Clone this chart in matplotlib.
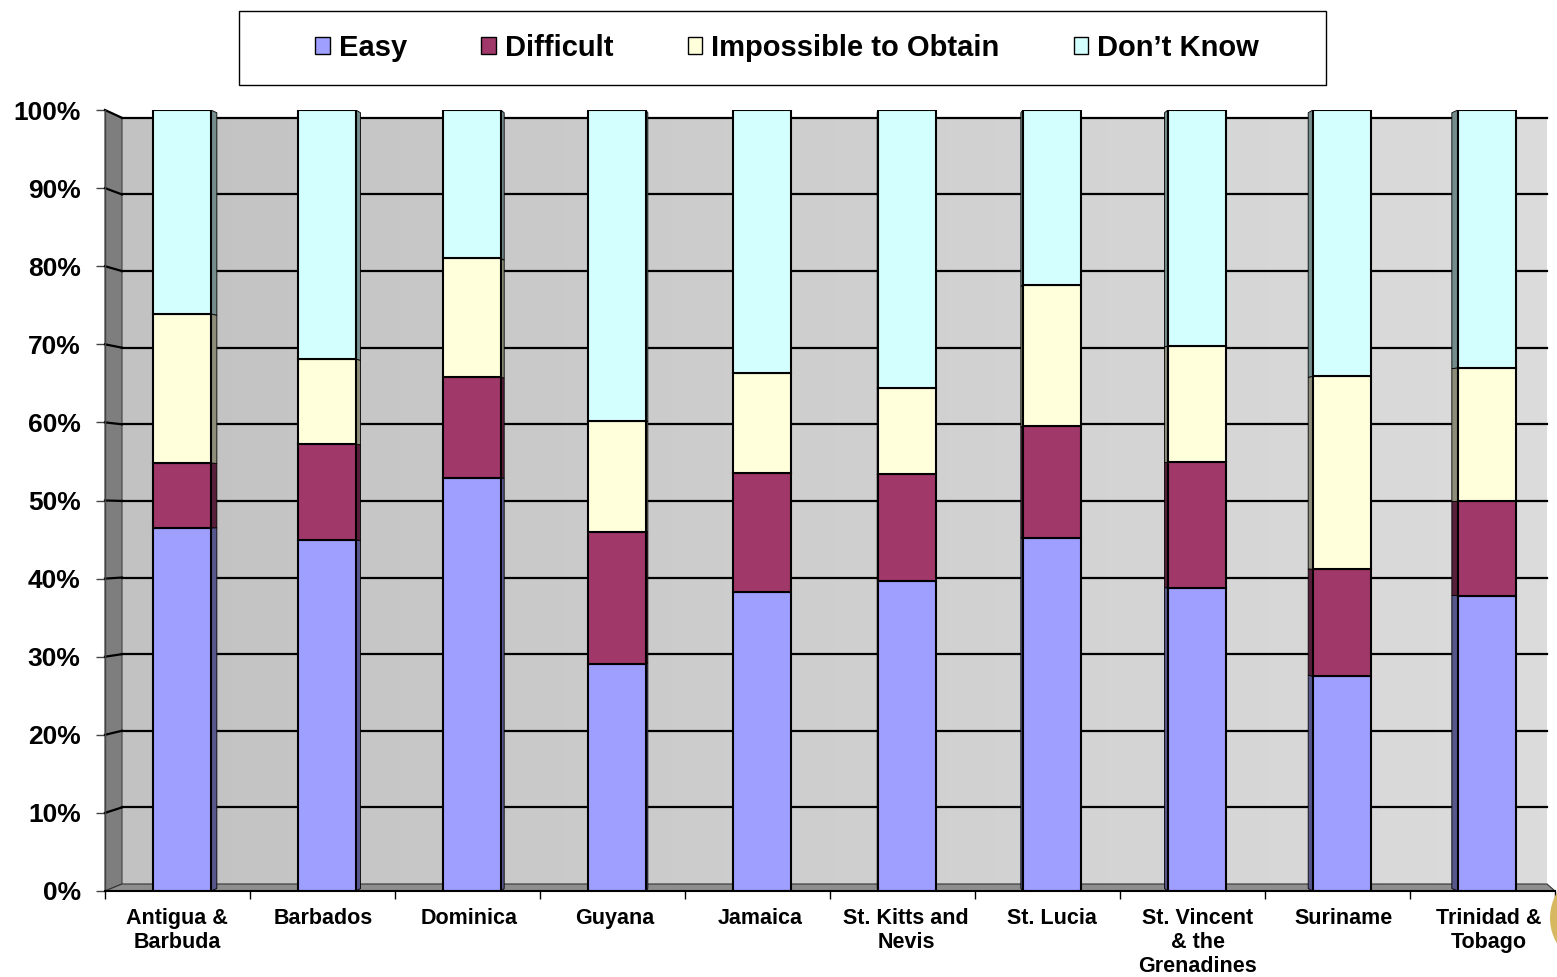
import numpy as np
import matplotlib.pyplot as plt
from matplotlib.patches import Polygon, Rectangle, Patch, Circle
from matplotlib.colors import LinearSegmentedColormap, to_rgb

countries = ['Antigua &\nBarbuda', 'Barbados', 'Dominica', 'Guyana', 'Jamaica',
             'St. Kitts and\nNevis', 'St. Lucia', 'St. Vincent\n& the\nGrenadines',
             'Suriname', 'Trinidad &\nTobago']
easy = [46.5, 44.9, 52.9, 29.1, 38.3, 39.7, 45.2, 38.8, 27.5, 37.8]
difficult = [8.3, 12.3, 12.9, 16.9, 15.2, 13.7, 14.3, 16.1, 13.7, 12.1]
impossible = [19.1, 10.9, 15.2, 14.2, 12.8, 11.0, 18.1, 14.9, 24.7, 17.1]
dont_know = [26.1, 31.9, 19.0, 39.8, 33.7, 35.6, 22.4, 30.2, 34.1, 33.0]

series = [('Easy', easy, '#9f9fff'),
          ('Difficult', difficult, '#a0386a'),
          ('Impossible to Obtain', impossible, '#ffffdc'),
          ('Don\u2019t Know', dont_know, '#d4ffff')]

plt.rcParams['font.family'] = 'Liberation Sans'
plt.rcParams['font.weight'] = 'bold'

W, H = 1557, 977
fig = plt.figure(figsize=(W / 100, H / 100), dpi=100)
ax = fig.add_axes([105 / W, 86 / H, 1450 / W, 781 / H])
ax.set_xlim(0, 10)
ax.set_ylim(0, 100)

# back wall sits a little to the right and squeezed vertically (3D look)
xb0, xb1 = 17 / 145, (1547 - 105) / 145


def yb(p):
    return 0.896 + 0.981 * p


wall_cmap = LinearSegmentedColormap.from_list('wall', ['#c2c2c2', '#dcdcdc'])
wall = Polygon([(xb0, yb(0)), (xb0, yb(100)), (xb1, yb(100)), (xb1, yb(0))],
               closed=True, facecolor='none', edgecolor='none')
ax.add_patch(wall)
img = ax.imshow(np.linspace(0, 1, 256)[None, :], cmap=wall_cmap, aspect='auto',
                extent=[xb0, xb1, yb(0), yb(100)], zorder=0)
img.set_clip_path(wall)

# left side wall and floor
ax.add_patch(Polygon([(0, 0), (0, 100), (xb0, yb(100)), (xb0, yb(0))],
                     facecolor='#7e7e7e', edgecolor='#444444', lw=0.8, zorder=1,
                     clip_on=False))
ax.add_patch(Polygon([(0, 0), (10, 0), (xb1, yb(0)), (xb0, yb(0))],
                     facecolor='#8e8e8e', edgecolor='#333333', lw=0.8, zorder=1,
                     clip_on=False))

# gridlines across the side wall and back wall
for p in range(10, 101, 10):
    ax.plot([xb0, xb1], [yb(p), yb(p)], color='black', lw=1.6, zorder=2,
            clip_on=False)
    ax.plot([0, xb0], [p, yb(p)], color='black', lw=1.6, zorder=2, clip_on=False)

# stacked bars with a thin receding side face
width = 0.4
f = 0.35
bottom = np.zeros(len(countries))
for name, vals, col in series:
    vals = np.array(vals)
    xc = np.arange(len(countries)) + 0.53
    ax.bar(xc, vals, width=width, bottom=bottom, color=col, edgecolor='black',
           lw=1.5, zorder=4)
    dark = tuple(c * 0.55 for c in to_rgb(col))
    for i in range(len(countries)):
        dxd = 6 * (4.5 - i) / 4.5 / 145
        xe = xc[i] + width / 2 if dxd > 0 else xc[i] - width / 2
        b, t = bottom[i], bottom[i] + vals[i]
        ax.add_patch(Polygon([(xe, b), (xe, t),
                              (xe + dxd, t + f * (yb(t) - t)),
                              (xe + dxd, b + f * (yb(b) - b))],
                             facecolor=dark, edgecolor='black', lw=0.6, zorder=3))
    bottom += vals

for s in ['top', 'right']:
    ax.spines[s].set_visible(False)
ax.spines['left'].set_color('#444444')
ax.spines['left'].set_linewidth(1)
ax.spines['bottom'].set_color('black')
ax.spines['bottom'].set_linewidth(1.5)
ax.spines['bottom'].set_zorder(5)

ax.set_yticks(range(0, 101, 10))
ax.set_yticklabels(['{}%'.format(v) for v in range(0, 101, 10)], fontsize=19,
                   fontweight='bold')
ax.tick_params(axis='y', length=6.5, width=1, color='#444444', pad=11)

# category labels sit on the front edge, spread a touch wider than the bars
ax.set_xticks(np.arange(len(countries)) * 1.0055 + 0.497)
ax.set_xticklabels(countries, fontsize=15.5, fontweight='bold', linespacing=1.2)
ax.set_xticks(np.arange(0, 11), minor=True)
ax.tick_params(axis='x', which='major', length=0, pad=12)
ax.tick_params(axis='x', which='minor', length=6, width=1, color='black')

# legend box along the top
fig.patches.append(Rectangle((239 / W, 1 - 85 / H), 1087 / W, 74 / H,
                             transform=fig.transFigure, facecolor='white',
                             edgecolor='black', lw=1))
handles = [Patch(facecolor=c, edgecolor='black', lw=1) for _, _, c in series]
fig.legend(handles, [s[0] for s in series], loc='center',
           bbox_to_anchor=(787 / W, 1 - 48 / H), ncol=4, frameon=False,
           prop={'size': 21, 'weight': 'bold'}, handlelength=0.5,
           handleheight=0.5, handletextpad=0.3, columnspacing=2.55)

# gold badge peeking in at the lower right corner
fig.patches.append(Circle((16.0, 0.59), 0.5, transform=fig.dpi_scale_trans,
                          facecolor='#d6b862', edgecolor='none'))

fig.savefig('out.png', dpi=100)
